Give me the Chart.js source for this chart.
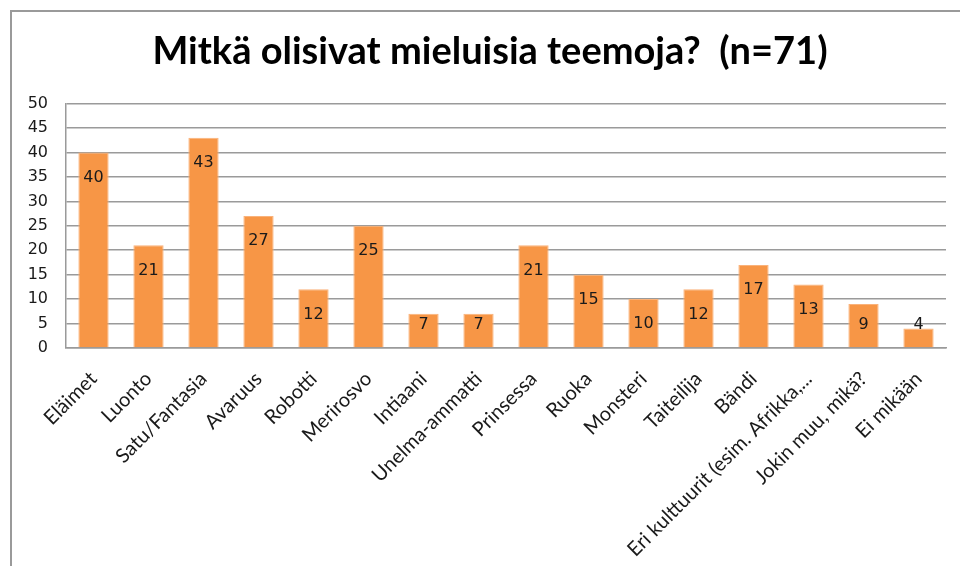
<!DOCTYPE html>
<html>
<head>
<meta charset="utf-8">
<script src="https://cdn.jsdelivr.net/npm/chart.js@4"></script>
<style>
  body { margin: 0; background: #fff; overflow: hidden; }
  #wrap { position: relative; width: 960px; height: 566px; }
  #frame {
    position: absolute; left: 10px; top: 10px; width: 1000px; height: 600px;
    border-left: 2px solid #9a9a9a; border-top: 2px solid #9a9a9a;
    pointer-events: none;
  }
</style>
</head>
<body>
<div id="wrap">
  <canvas id="grafiikka" width="960" height="566"></canvas>
  <div id="frame"></div>
</div>
<script>
const teemat = ['Eläimet', 'Luonto', 'Satu/Fantasia', 'Avaruus', 'Robotti', 'Merirosvo', 'Intiaani',
    'Unelma-ammatti', 'Prinsessa', 'Ruoka', 'Monsteri', 'Taiteilija', 'Bändi',
    'Eri kulttuurit (esim. Afrikka,...', 'Jokin muu, mikä?', 'Ei mikään'];
const vastaukset = [40, 21, 43, 27, 12, 25, 7, 7, 21, 15, 10, 12, 17, 13, 9, 4];
const yTicks = [0, 5, 10, 15, 20, 25, 30, 35, 40, 45, 50];

// arvot palkkien sisälle, yläpäähän
const arvoPlugin = {
    id: 'arvot',
    afterLayout(chart) {
        // otsikko keskelle kehystä
        if (chart.titleBlock) {
            chart.titleBlock.left = 20;
            chart.titleBlock.right = 960;
        }
    },
    afterDatasetsDraw(chart) {
        const c = chart.ctx;
        const meta = chart.getDatasetMeta(0);
        c.save();
        c.font = '16px "DejaVu Sans"';
        c.fillStyle = '#1a1a1a';
        c.textAlign = 'center';
        c.textBaseline = 'middle';
        meta.data.forEach((bar, i) => {
            const y = Math.min(bar.y + 25, bar.base - 22);
            c.fillText(vastaukset[i], bar.x, y);
        });
        c.restore();
    }
};

const ctx = document.getElementById('grafiikka');

new Chart(ctx, {
    type: 'bar',
    data: {
        labels: teemat,
        datasets: [{
            data: vastaukset,
            backgroundColor: '#F79646',
            borderColor: '#FAB27A',
            borderWidth: 1,
            barPercentage: 0.55,
            categoryPercentage: 1
        }]
    },
    options: {
        responsive: false,
        animation: false,
        layout: {
            padding: { left: 0, right: 14, top: 0, bottom: 0 }
        },
        plugins: {
            legend: { display: false },
            tooltip: { enabled: false },
            title: {
                display: true,
                text: 'Mitkä olisivat mieluisia teemoja?  (n=71)',
                color: '#000',
                font: { family: 'Lato', size: 38, weight: 'bold' },
                padding: { top: 29, bottom: 29 }
            }
        },
        scales: {
            y: {
                min: 0,
                max: 50,
                afterBuildTicks: (scale) => { scale.ticks = yTicks.map(v => ({ value: v })); },
                afterFit: (scale) => { scale.width = 66; },
                ticks: {
                    color: '#1a1a1a',
                    padding: 18,
                    font: { family: 'DejaVu Sans', size: 16 }
                },
                grid: { color: '#9a9a9a', lineWidth: 1.5, drawTicks: false },
                border: { display: true, color: '#9a9a9a', width: 1.5 }
            },
            x: {
                afterFit: (scale) => { scale.height = 218; },
                ticks: {
                    color: '#1a1a1a',
                    minRotation: 45,
                    maxRotation: 45,
                    autoSkip: false,
                    padding: 11,
                    font: { family: 'Lato', size: 20 }
                },
                grid: { display: false },
                border: { display: true, color: '#9a9a9a', width: 1.5 }
            }
        }
    },
    plugins: [arvoPlugin]
});
</script>
</body>
</html>
